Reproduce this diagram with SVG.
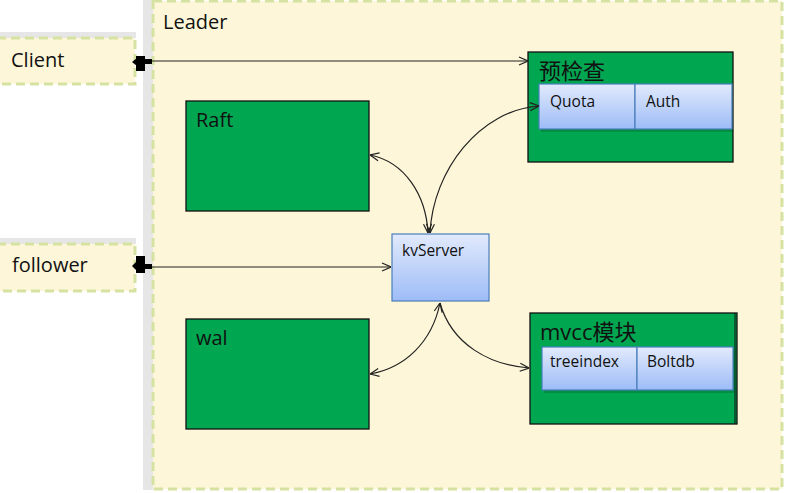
<svg xmlns="http://www.w3.org/2000/svg" width="786" height="493" viewBox="0 0 786 493">
<defs>
<linearGradient id="blue" x1="0" y1="0" x2="0" y2="1">
<stop offset="0" stop-color="#e2eafc"/>
<stop offset="1" stop-color="#9dbcf7"/>
</linearGradient>
<marker id="arr" viewBox="0 0 10 10" refX="10" refY="5" markerWidth="10" markerHeight="10" markerUnits="userSpaceOnUse" orient="auto-start-reverse">
<polyline points="1,1 10,5 1,9" fill="none" stroke="#222" stroke-width="1.2"/>
</marker>
</defs>
<style>
.lbl{font-family:"Open Sans","Noto Sans CJK SC",sans-serif;fill:#111}
.big{font-size:20px}
.cjk{font-size:22px}
.small{font-size:15.5px}
.green{fill:#00a650;stroke:#111;stroke-width:1.3}
.inner{fill:url(#blue);stroke:#4a7ebb;stroke-width:1.2}
.pale{fill:#fdf6d8;stroke:#d6e2a2;stroke-width:3;stroke-dasharray:9,5}
.conn{fill:none;stroke:#222;stroke-width:1.2}
</style>
<rect x="0" y="0" width="786" height="493" fill="#ffffff"/>
<g id="leader">
<rect x="143" y="0" width="12" height="490" fill="#e6e6e6"/>
<rect x="153" y="1" width="629" height="488" class="pale"/>
<text x="163" y="29" class="lbl big">Leader</text>
</g>
<g id="client">
<rect x="0" y="32" width="136" height="6" fill="#e6e6e6"/>
<rect x="-3" y="38" width="138" height="46" class="pale"/>
<text x="11" y="67" class="lbl big">Client</text>
</g>
<g id="follower">
<rect x="0" y="238" width="136" height="6" fill="#e6e6e6"/>
<rect x="-3" y="244" width="138" height="47" class="pale"/>
<text x="12" y="272" class="lbl big">follower</text>
</g>
<g id="raft">
<rect x="186" y="101" width="183" height="110" class="green"/>
<text x="196" y="127" class="lbl big">Raft</text>
</g>
<g id="wal">
<rect x="186" y="319" width="183" height="110" class="green"/>
<text x="196" y="345" class="lbl big">wal</text>
</g>
<g id="kvserver">
<rect x="392" y="234" width="97" height="67" class="inner"/>
<text x="402" y="256" class="lbl small">kvServer</text>
</g>
<g id="precheck">
<rect x="528" y="52" width="205" height="110" class="green"/>
<text x="539" y="79" class="lbl cjk">预检查</text>
<rect x="541" y="87" width="192" height="45" fill="#000" opacity="0.15"/>
<rect x="539" y="84" width="96" height="45" class="inner"/>
<rect x="635" y="84" width="97" height="45" class="inner"/>
<text x="550" y="107" class="lbl small">Quota</text>
<text x="646" y="107" class="lbl small">Auth</text>
</g>
<g id="mvcc">
<rect x="530" y="313" width="207" height="111" class="green"/>
<line x1="735" y1="313" x2="735" y2="424" stroke="#111" stroke-width="1"/>
<text x="540" y="340" class="lbl cjk">mvcc模块</text>
<rect x="544" y="350" width="190" height="43" fill="#000" opacity="0.15"/>
<rect x="542" y="347" width="95" height="43" class="inner"/>
<rect x="637" y="347" width="96" height="43" class="inner"/>
<text x="550" y="367" class="lbl small">treeindex</text>
<text x="647" y="367" class="lbl small">Boltdb</text>
</g>
<g id="connectors">
<line x1="140" y1="61" x2="528" y2="61" class="conn" marker-end="url(#arr)"/>
<rect x="136" y="56" width="9" height="15" fill="#000"/>
<polygon points="132,62 137,58 137,66" fill="#000"/>
<rect x="145" y="59" width="7" height="5" fill="#000"/>
<line x1="140" y1="267" x2="391" y2="267" class="conn" marker-end="url(#arr)"/>
<rect x="136" y="256" width="9" height="17" fill="#000"/>
<polygon points="132,266 137,261 137,271" fill="#000"/>
<rect x="145" y="264" width="7" height="5" fill="#000"/>
<path d="M428,233 C426,195 405,162 370,155" class="conn" marker-start="url(#arr)" marker-end="url(#arr)"/>
<path d="M430,233 C433,170 480,110 539,106" class="conn" marker-start="url(#arr)" marker-end="url(#arr)"/>
<path d="M440,303 C432,342 405,368 370,374" class="conn" marker-start="url(#arr)" marker-end="url(#arr)"/>
<path d="M440,303 C452,345 490,365 529,368" class="conn" marker-end="url(#arr)"/>
</g>
</svg>
